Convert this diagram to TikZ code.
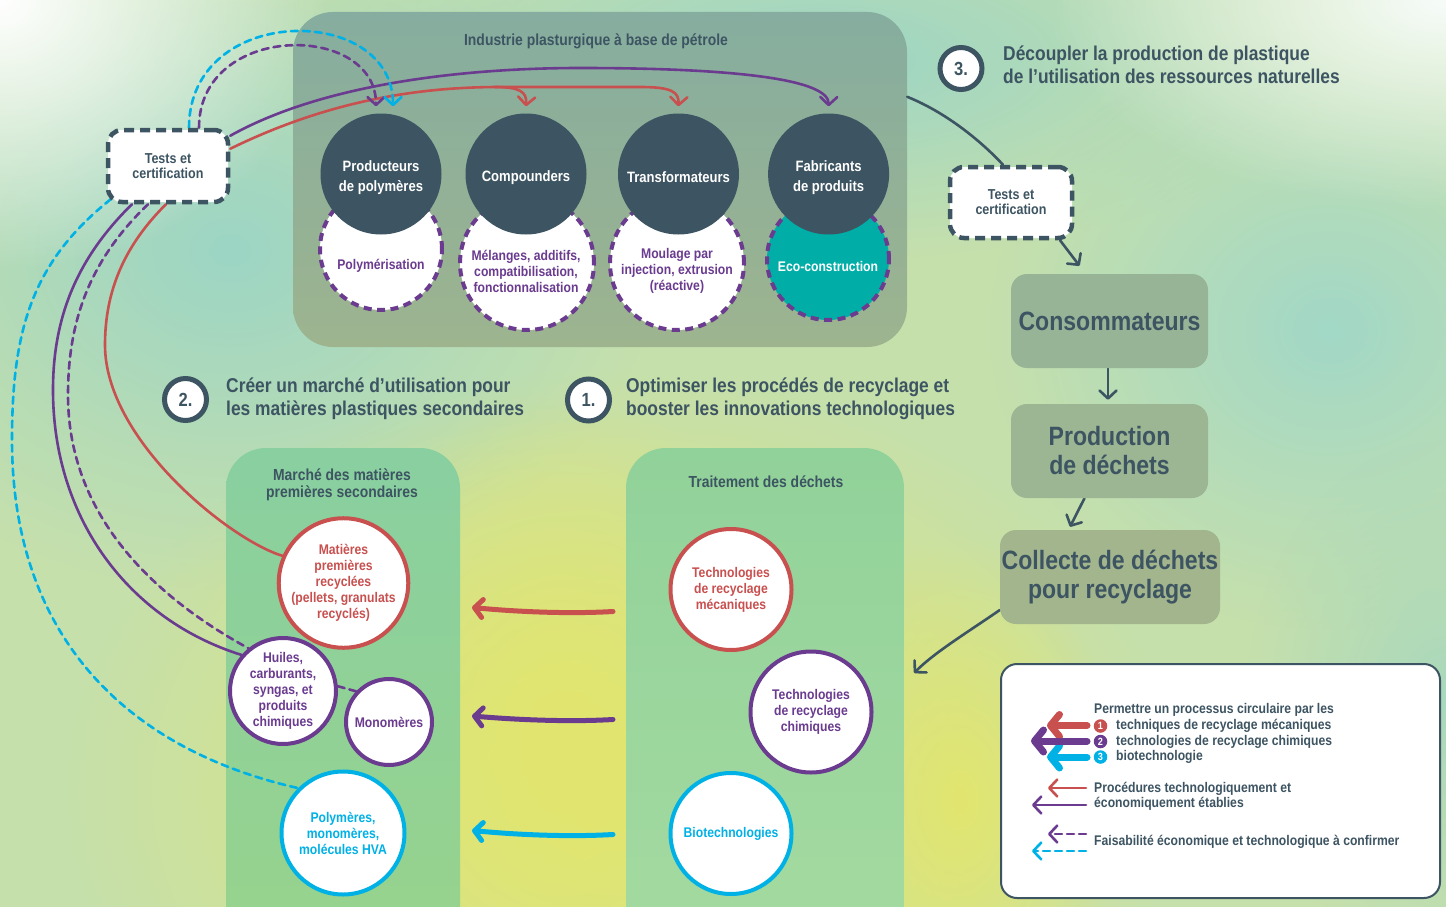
\documentclass[tikz,border=0pt]{standalone}
\usepackage{fontspec}
\setmainfont{Liberation Sans}[FakeStretch=0.87]
\usetikzlibrary{arrows.meta,fadings,calc}
\definecolor{dk}{HTML}{3D5462}
\definecolor{rd}{HTML}{C8504F}
\definecolor{pu}{HTML}{6A3B8F}
\definecolor{cy}{HTML}{00B1E6}
\definecolor{ecoteal}{HTML}{00AEA7}
\definecolor{bgbase}{HTML}{C6E0AC}
\definecolor{bgteal}{HTML}{9CD5C5}
\definecolor{bgteal2}{HTML}{A2D8C7}
\definecolor{bgyel}{HTML}{E2E66F}
\definecolor{indtop}{HTML}{86AD9F}
\definecolor{indbot}{HTML}{9DB48F}
\definecolor{mktop}{HTML}{89CFA0}
\definecolor{mkbot}{HTML}{97D38D}
\definecolor{trtop}{HTML}{91D29A}
\definecolor{trbot}{HTML}{A4DAA0}
\definecolor{consc}{HTML}{98B497}
\definecolor{prodc}{HTML}{9CB592}
\definecolor{collc}{HTML}{A2B58C}
\pgfdeclarelayer{bglayer}
\pgfdeclarelayer{linelayer}
\pgfsetlayers{bglayer,linelayer,main}
\tikzfading[name=glowfade, inner color=transparent!0, outer color=transparent!100]
\newcommand{\fsA}{\fontsize{14}{16}\selectfont\bfseries}
\newcommand{\fsB}{\fontsize{15}{20}\selectfont\bfseries}
\newcommand{\fsC}{\fontsize{16}{16.5}\selectfont\bfseries}
\newcommand{\fsD}{\fontsize{20}{23}\selectfont\bfseries}
\newcommand{\fsE}{\fontsize{26.5}{29}\selectfont\bfseries}
\newcommand{\fsF}{\fontsize{14}{15.5}\selectfont\bfseries}
\newcommand{\fsT}{\fontsize{14.4}{15}\selectfont\bfseries}
\newcommand{\fsN}{\fontsize{19}{19}\selectfont\bfseries}
\newcommand{\fsL}{\fontsize{10.5}{10.5}\selectfont\bfseries}
\tikzset{
  panelbox/.style={rectangle, rounded corners=40pt, inner sep=0pt},
  darkc/.style={circle, fill=dk, minimum size=121pt, inner sep=0pt},
  darklbl/.style={label={[text=white, font=\fsB, align=center, yshift=-3.5pt]center:#1}},
  dashc/.style={circle, draw=pu, line width=4pt, dash pattern=on 8pt off 5.5pt, fill=white, inner sep=0pt},
  ringc/.style={circle, draw=#1, line width=4pt, fill=white, text=#1, align=center, font=\fsA, inner sep=0pt},
  intxt/.style={text=#1, align=center, font=\fsA, inner sep=0pt},
  testbox/.style={rectangle, rounded corners=14pt, draw=dk, line width=4.5pt, dash pattern=on 10pt off 6pt, fill=white, minimum width=120pt, minimum height=72pt, text=dk, align=center, font=\fsT, inner sep=0pt},
  flowbox/.style={rectangle, rounded corners=16pt, minimum width=197pt, minimum height=94pt, text=dk, align=center, font=\fsE, inner sep=0pt},
  numc/.style={circle, draw=dk, line width=5pt, fill=white, minimum size=42pt, text=dk, font=\fsN, inner sep=0pt},
  headtxt/.style={text=dk, align=left, font=\fsD, anchor=west, inner sep=0pt},
  ptitle/.style={text=dk, align=center, font=\fsC, inner sep=0pt},
  legtxt/.style={text=dk, align=left, font=\fsF, anchor=west, inner sep=0pt},
  legnum/.style={circle, fill=#1, minimum size=13.5pt, text=white, font=\fsL, inner sep=0pt},
  thinln/.style={line width=2.6pt, line cap=round},
  chev/.style={-{Straight Barb[length=8pt,width=17pt,round]}},
  bigchev/.style={line width=5pt, line cap=round, -{Straight Barb[length=8pt,width=18pt,round]}},
  legbig/.style={line width=7pt, line cap=round, -{Straight Barb[length=9pt,width=22pt,round]}},
  dashln/.style={dash pattern=on 7pt off 5pt},
}
\begin{document}
\begin{tikzpicture}[x=1pt,y=-1pt]
\useasboundingbox (0,0) rectangle (1446,907);
\begin{pgfonlayer}{bglayer}
  \fill[bgbase] (0,0) rectangle (1446,907);
  \fill[bgteal, path fading=glowfade] (230,250) ellipse [x radius=430pt, y radius=340pt];
  \fill[bgteal, path fading=glowfade] (820,60) ellipse [x radius=520pt, y radius=200pt];
  \fill[bgteal2, path fading=glowfade] (1330,330) ellipse [x radius=340pt, y radius=300pt];
  \fill[bgyel, path fading=glowfade] (620,790) ellipse [x radius=560pt, y radius=420pt];
  \fill[bgyel, path fading=glowfade] (560,730) ellipse [x radius=260pt, y radius=330pt];
  \fill[bgyel, path fading=glowfade] (960,800) ellipse [x radius=160pt, y radius=260pt];
  \fill[bgteal!70!bgbase, path fading=glowfade] (1446,700) ellipse [x radius=200pt, y radius=260pt];
  \fill[white, path fading=glowfade] (0,0) ellipse [x radius=330pt, y radius=270pt];
  \fill[white!92!bgteal, path fading=glowfade] (1446,0) ellipse [x radius=400pt, y radius=210pt];
  \node[panelbox, minimum width=614pt, minimum height=335pt, top color=indtop, bottom color=indbot] (ind) at (600,179.5) {};
  \node[panelbox, minimum width=234pt, minimum height=500pt, top color=mktop, bottom color=mkbot] (mk) at (343,698) {};
  \node[panelbox, minimum width=278pt, minimum height=500pt, top color=trtop, bottom color=trbot] (trt) at (765,698) {};
\end{pgfonlayer}

% panel titles
\node[ptitle] (indT) at (596,41) {Industrie plasturgique à base de pétrole};
\node[ptitle] (mkT) at (342,485) {Marché des matières\\premières secondaires};
\node[ptitle] (trtT) at (766,481.5) {Traitement des déchets};

% top panel circles
\node[dashc, minimum size=122pt] (polyC) at (381,249) {};
\node[dashc, minimum size=134pt] (melC) at (527,263) {};
\node[dashc, minimum size=134pt] (moulC) at (677,263) {};
\node[dashc, minimum size=122pt, fill=ecoteal] (ecoC) at (828,259) {};
\node[darkc, darklbl={Producteurs\\de polymères}] (pp) at (381,174) {};
\node[darkc, darklbl={Compounders}] (co) at (526,174) {};
\node[darkc, darklbl={Transformateurs}] (trn) at (678.5,174) {};
\node[darkc, darklbl={Fabricants\\de produits}] (fp) at (828.6,174) {};
\node[intxt=pu] (polyT) at (381,266) {Polymérisation};
\node[intxt=pu] (melT) at (526,271) {Mélanges, additifs,\\compatibilisation,\\fonctionnalisation};
\node[intxt=pu] (moulT) at (677,271) {Moulage par\\injection, extrusion\\(réactive)};
\node[intxt=white] (ecoT) at (828,266) {Eco-construction};

% test boxes
\node[testbox] (tl) at (168,166) {Tests et\\certification};
\node[testbox, minimum width=122pt, minimum height=71pt] (tr2) at (1011,202.5) {Tests et\\certification};

% numbered headings
\node[numc] (n3) at (961,68.5) {3.};
\node[headtxt] (h3) at (1003,65) {Découpler la production de plastique\\de l’utilisation des ressources naturelles};
\node[numc] (n2) at (185.5,399.5) {2.};
\node[headtxt] (h2) at (226,398.5) {Créer un marché d’utilisation pour\\les matières plastiques secondaires};
\node[numc] (n1) at (588.5,400) {1.};
\node[headtxt] (h1) at (626,398.5) {Optimiser les procédés de recyclage et\\booster les innovations technologiques};

% flow boxes
\node[flowbox, fill=consc] (cons) at (1109.5,321) {Consommateurs};
\node[flowbox, fill=prodc] (prod) at (1109.5,451) {Production\\de déchets};
\node[flowbox, fill=collc, minimum width=220pt] (coll) at (1110,577) {Collecte de déchets\\pour recyclage};

% bottom circles
\node[ringc=rd, minimum size=120pt] (ma) at (343.5,583) {Matières\\premières\\recyclées\\(pellets, granulats\\recyclés)};
\node[ringc=pu, minimum size=106pt] (hu) at (283,691) {Huiles,\\carburants,\\syngas, et\\produits\\chimiques};
\node[ringc=pu, minimum size=86pt] (mo) at (389,722) {Monomères};
\node[ringc=cy, minimum size=123pt] (pol) at (343,833) {Polymères,\\monomères,\\molécules HVA};
\node[ringc=rd, minimum size=121pt] (tm) at (731,589.5) {Technologies\\de recyclage\\mécaniques};
\node[ringc=pu, minimum size=121pt] (tc) at (811,712) {Technologies\\de recyclage\\chimiques};
\node[ringc=cy, minimum size=121pt] (bt) at (731,833.5) {Biotechnologies};

% legend
\node[rectangle, rounded corners=16pt, draw=dk, line width=2pt, fill=white, minimum width=439pt, minimum height=234pt, inner sep=0pt] (leg) at (1220.5,781) {};
\node[legtxt] (lg0) at (1094,710) {Permettre un processus circulaire par les};
\node[legnum=rd] (lgn1) at (1100.5,726) {1};
\node[legnum=pu] (lgn2) at (1100.5,741.5) {2};
\node[legnum=cy] (lgn3) at (1100.5,757) {3};
\node[legtxt] (lg1) at (1116,726) {techniques de recyclage mécaniques};
\node[legtxt] (lg2) at (1116,741.5) {technologies de recyclage chimiques};
\node[legtxt] (lg3) at (1116,757) {biotechnologie};
\node[legtxt] (lg4) at (1094,796.5) {Procédures technologiquement et\\économiquement établies};
\node[legtxt] (lg5) at (1094,842) {Faisabilité économique et technologique à confirmer};
\coordinate (la1) at (1087,725.5);
\coordinate (la2) at (1087,741);
\coordinate (la3) at (1087,757);
\coordinate (la4) at (1086,788);
\coordinate (la5) at (1086,805);
\coordinate (la6) at (1086,834);
\coordinate (la7) at (1086,851);
\draw[legbig, rd] (la1) -- ++(-40,0);
\draw[legbig, cy] (la3) -- ++(-40,0);
\draw[legbig, pu] (la2) -- ++(-56,0);
\draw[thinln, rd, chev] (la4) -- ++(-38,0);
\draw[thinln, pu, chev] (la5) -- ++(-54,0);
\draw[thinln, pu, dashln, chev] (la6) -- ++(-38,0);
\draw[thinln, cy, dashln, chev] (la7) -- ++(-54,0);

\coordinate (ptr1) at (613,611.5);
\coordinate (ptr2) at (613,719.5);
\coordinate (ptr3) at (613,834.5);
\coordinate (pmk1) at (472,607.5);
\coordinate (pmk2) at (472,716);
\coordinate (pmk3) at (472,830.5);
\coordinate (trtin) at (914,673);

\begin{pgfonlayer}{linelayer}
  % top connectors from left test box
  \draw[thinln, pu, chev] ([yshift=-8pt]tl.north east) .. controls (330,80) and (480,68) .. (580,68)
     .. controls (740,68) and (829,80) .. ([yshift=7pt]fp.north);
  \draw[thinln, rd, chev] ([yshift=-21pt]tl.north east) .. controls (330,100) and (420,87) .. (500,87)
     -- (640,87) .. controls (672,87) and (679,92) .. ([yshift=7pt]trn.north);
  \draw[thinln, rd, chev] (495,87) .. controls (520,87) and (527,92) .. ([yshift=7pt]co.north);
  \draw[thinln, pu, dashln, chev] ([xshift=31pt]tl.north) .. controls (199,22) and (376,22) .. ([xshift=-5pt,yshift=7pt]pp.north);
  \draw[thinln, cy, dashln, chev] ([xshift=21pt]tl.north) .. controls (189,3) and (393,3) .. ([xshift=12pt,yshift=7pt]pp.north);
  % left connectors
  \draw[thinln, cy, dashln] ([xshift=5pt,yshift=5pt]tl.south west) .. controls (32,262) and (12,330) .. (12,440)
     .. controls (12,640) and (130,750) .. (pol.135);
  \draw[thinln, pu] ([xshift=-36pt]tl.south) .. controls (75,260) and (53,320) .. (53,390)
     .. controls (53,520) and (130,620) .. (hu.139);
  \draw[thinln, pu, dashln] ([xshift=-20pt]tl.south) .. controls (90,260) and (68,320) .. (68,395)
     .. controls (68,520) and (160,600) .. (hu.129);
  \draw[thinln, pu, dashln] (hu.5) -- (mo.137);
  \draw[thinln, rd] ([xshift=-2pt]tl.south) .. controls (125,245) and (105,290) .. (105,345)
     .. controls (105,440) and (230,540) .. (ma.156);
  % right flow
  \draw[thinln, dk] ([yshift=-85pt]ind.north east) .. controls (945,112) and (980,140) .. ([xshift=-8pt]tr2.north);
  \draw[thinln, dk, chev] ([xshift=49pt]tr2.south) -- ([xshift=-30pt,yshift=8pt]cons.north);
  \draw[thinln, dk, chev] ([xshift=-1.5pt]cons.south) -- ([xshift=-1.5pt,yshift=4pt]prod.north);
  \draw[thinln, dk, chev] ([xshift=-25pt]prod.south) -- ([xshift=-40pt,yshift=3pt]coll.north);
  \draw[thinln, dk, chev] ([yshift=-33pt]coll.west) .. controls (968,632) and (935,652) .. (trtin);
  % between panels
  \draw[bigchev, rd] (ptr1) .. controls (570,614) and (520,612) .. (pmk1);
  \draw[bigchev, pu] (ptr2) .. controls (570,722) and (520,720) .. (pmk2);
  \draw[bigchev, cy] (ptr3) .. controls (570,837) and (520,835) .. (pmk3);
\end{pgfonlayer}
\end{tikzpicture}
\end{document}
